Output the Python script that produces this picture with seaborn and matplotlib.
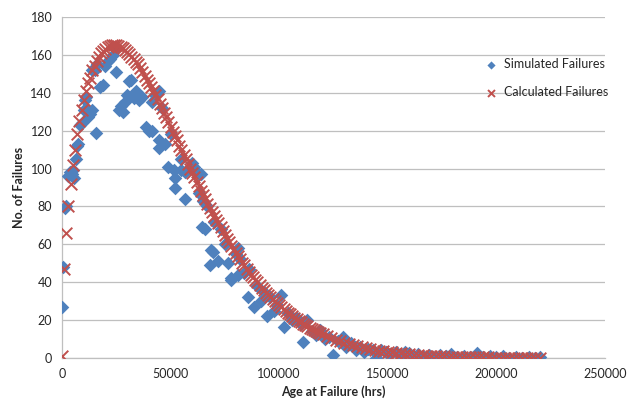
import numpy as np
import pandas as pd
import seaborn as sns
import matplotlib
matplotlib.use('Agg')
import matplotlib.pyplot as plt

# ages are in thousands of hours
sim_age_k = [0, 0.6, 1.2, 2, 3, 3.6, 4.4, 5, 5.5, 6.5, 7, 7.4, 8.2, 9, 10, 10.5, 11, 11.5, 12,
             12.7, 13.7, 14, 15.2, 15.8, 16, 17.3, 18.8, 20, 21, 22, 23.3, 24.9, 24.9, 26.4, 27,
             28, 29, 30, 31, 31, 32, 33, 34, 35.5, 37, 38.5, 40, 41.5, 41.5, 43, 44.6, 44.6, 44.6,
             46, 47.6, 49, 50, 51.4, 52, 52, 55, 55, 56.7, 56.7, 58, 60, 61, 63, 63, 64, 64.3, 65,
             65.8, 67, 68, 68.8, 69.6, 70, 72, 73, 75, 76.4, 78, 78, 80, 81, 81, 82, 84, 85.5, 86,
             88.6, 90, 91.6, 93, 94.6, 96, 97.7, 99, 100.7, 102, 104, 106, 108, 110, 111, 113, 115,
             117, 119, 121, 123, 125, 127, 129.6, 131, 133, 135.6, 137, 139, 141, 143, 144.7, 147,
             149, 151, 153.8, 156, 158, 160, 162, 164, 166, 169, 171, 174, 177, 179, 182, 185, 188,
             191, 194, 197, 200, 203, 206, 209, 212, 215, 218, 220]
sim_failures = [27, 48, 79, 80, 96, 98, 97, 99, 95, 105, 112, 113, 123, 124, 131, 136, 138, 131, 127,
                129, 131, 152, 152, 119, 155, 143, 144, 154, 157, 158, 160, 163, 151, 131, 133,
                130, 135, 139, 146, 138, 147, 137, 141, 136, 138, 122, 120, 135, 120, 139, 141, 111, 115,
                132, 113, 101, 118, 99, 95, 90, 105, 99, 98, 84, 100, 103, 101, 87, 97, 97, 69, 83,
                68, 80, 49, 57, 56, 72, 51, 68, 60, 50, 42, 41, 55, 58, 44, 52, 45, 32, 47,
                27, 38, 30, 35, 22, 32, 25, 28, 33, 16.5, 24, 20, 21, 18, 8.6, 20, 14,
                12, 15, 10, 11, 1.6, 9, 11, 6, 8, 4.2, 6, 3, 5, 4, 0, 4,
                3, 2, 3.3, 1.5, 3, 2.5, 1, 2, 1, 1.6, 0.5, 1.5, 0.8, 2, 0.5, 1, 0.3,
                2.5, 0.5, 1, 0.3, 0.8, 0.2, 0.5, 0.1, 0.4, 0.2, 0.6]

calc_age_k = list(range(0, 121)) + list(range(122, 221, 2))
calc_failures = [1, 47, 66, 80, 92, 102, 110, 118, 125, 131, 136, 141, 145, 148, 152, 154, 157, 159,
                 161, 162, 163, 164, 164.5, 165, 165, 165, 164.5, 164, 163.5, 162.5, 161.5, 160.5,
                 159, 158, 156, 155, 153, 151, 149, 147, 145, 143, 141, 139, 136.5, 134, 132, 129.5,
                 127, 124.5, 122, 119.5, 117, 115, 112, 110, 107, 105, 102.5, 100, 97.5,
                 95.3, 93, 90.6, 88, 86, 84, 81.5, 79, 77, 75, 73, 71, 69, 67, 65, 63, 61, 59, 57.3,
                 55.5, 53.8, 52, 50.4, 49, 47.2, 45.5, 44, 42.5, 41.2, 40, 38.5, 37, 35.8, 34.5, 33.3,
                 32, 31, 30, 28.9, 28, 26.9, 26, 24.9, 24, 23, 22, 21.3, 20.5, 19.7, 19, 18.2, 17.5,
                 16.7, 16, 15.4, 15, 14.2, 13.5, 13, 12.5,
                 11.5, 10.5, 9.6, 8.8, 8.1, 7.4, 6.7, 6.2, 5.6, 5.1, 4.7, 4.3, 3.9, 3.5, 3.2, 2.9,
                 2.6, 2.4, 2.1, 1.9, 1.75, 1.6, 1.4, 1.3, 1.2, 1.0, 0.95, 0.85, 0.75, 0.7, 0.6, 0.55,
                 0.5, 0.45, 0.4, 0.35, 0.3, 0.27, 0.24, 0.21, 0.19, 0.17, 0.15, 0.13, 0.12, 0.1,
                 0.09, 0.08, 0.07, 0.06]

sim = pd.DataFrame({'age': np.array(sim_age_k) * 1000, 'n': sim_failures})
calc = pd.DataFrame({'age': np.array(calc_age_k) * 1000, 'n': calc_failures})

sns.set_style('white')
plt.rcParams['font.family'] = ['Lato', 'DejaVu Sans']

fig = plt.figure(figsize=(6.28, 4.19), dpi=100)
ax = fig.add_axes([0.0987, 0.1456, 0.8646, 0.8138])

sns.scatterplot(data=sim, x='age', y='n', marker='D', s=48, color='#4F81BD',
                edgecolor='#4F81BD', linewidth=0, label='Simulated Failures', ax=ax, zorder=3)
sns.scatterplot(data=calc, x='age', y='n', marker='x', s=70, color='#C0504D',
                linewidth=1.4, label='Calculated Failures', ax=ax, zorder=4)

ax.set_xlim(0, 250000)
ax.set_ylim(0, 180)
ax.set_xticks(range(0, 250001, 50000))
ax.set_yticks(range(0, 181, 20))
ax.yaxis.grid(True, color='#BFBFBF', linewidth=0.9)
ax.set_axisbelow(True)
for side in ['top', 'right']:
    ax.spines[side].set_visible(False)
for side in ['left', 'bottom']:
    ax.spines[side].set_color('#BFBFBF')
    ax.spines[side].set_linewidth(0.9)
ax.tick_params(axis='both', direction='out', length=4, width=0.9, color='#BFBFBF',
               labelsize=9, labelcolor='#262626', pad=3)

ax.set_xlabel('Age at Failure (hrs)', fontsize=9, fontweight='bold', color='#262626')
ax.set_ylabel('No. of Failures', fontsize=9, fontweight='bold', color='#262626')

leg = ax.legend(loc='upper right', bbox_to_anchor=(1.015, 0.895), frameon=False, fontsize=9,
                handletextpad=0.0, labelspacing=1.3, borderaxespad=0, markerscale=0.6)
for t in leg.get_texts():
    t.set_color('#262626')

fig.savefig('out.png', dpi=100)
